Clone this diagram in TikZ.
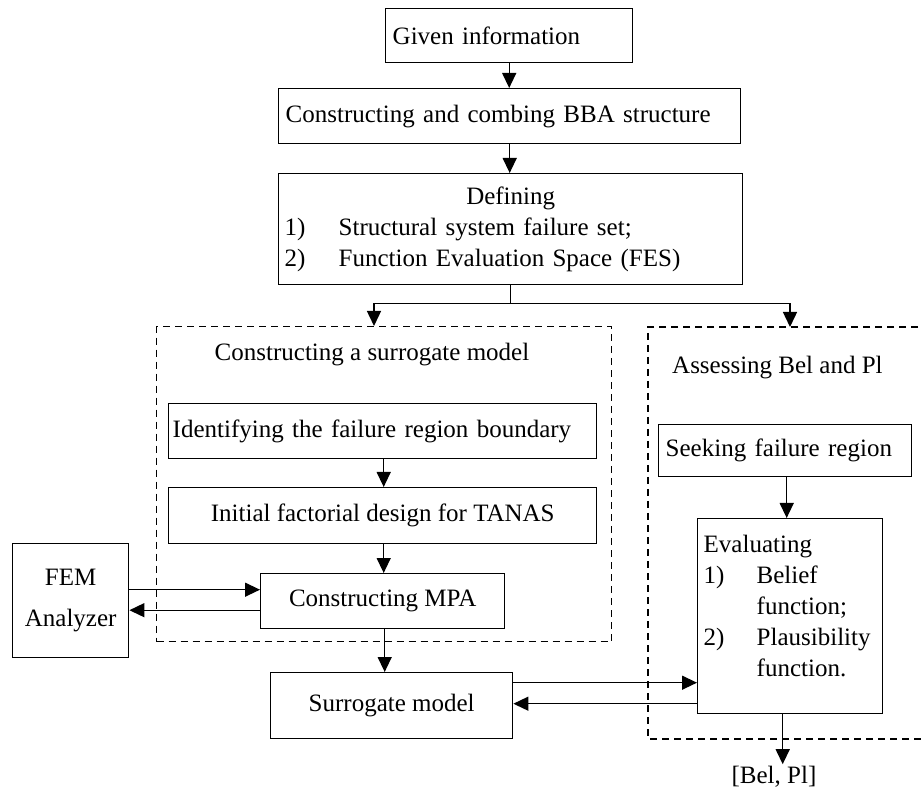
\documentclass[tikz,border=0pt]{standalone}
\usepackage{fontspec}
\setmainfont{Liberation Serif}
\usetikzlibrary{arrows.meta}
\begin{document}
\begin{tikzpicture}[x=1pt,y=-1pt,
  box/.style={draw, line width=1.4pt, inner sep=0pt, anchor=north west, font=\fontsize{25}{31}\selectfont},
  arr/.style={line width=1.4pt, -{Triangle[length=15pt,width=14pt]}},
  ln/.style={line width=1.4pt},
  dbox/.style={line width=1.4pt, dash pattern=on 7pt off 5pt},
  lbl/.style={font=\fontsize{25}{31}\selectfont, inner sep=0pt}]
\useasboundingbox (0,0) rectangle (922,794);

% main boxes
\node[box, minimum width=247, minimum height=54, text width=233, align=left] (given) at (385,8) {Given information};
\node[box, minimum width=462, minimum height=55, text width=448, align=left] (bba) at (278,88) {Constructing and combing BBA structure};
\node[box, minimum width=464, minimum height=111, text width=452, align=left] (def) at (278,173)
  {\makebox[452pt]{Defining}\\ \makebox[54pt][l]{1)}Structural system failure set;\\ \makebox[54pt][l]{2)}Function Evaluation Space (FES)};

% dashed groups
\node[dbox, draw, anchor=north west, minimum width=455, minimum height=315, inner sep=0pt] (left) at (156,326) {};
\draw[dbox] (930,327) -- (648,327) -- (648,739) -- (930,739);
\coordinate (ltop) at (374,326);
\coordinate (rtop) at (790,327);
\node[lbl] (t1) at (372,355) {Constructing a surrogate model};
\node[lbl, anchor=west] (t2) at (672,368) {Assessing Bel and Pl};

% left group
\node[box, minimum width=428, minimum height=55, text width=420, align=left] (ident) at (168,403) {Identifying the failure region boundary};
\node[box, minimum width=428, minimum height=56, align=center] (init) at (168,487) {Initial factorial design for TANAS};
\node[box, minimum width=244, minimum height=55, align=center] (mpa) at (260,573) {Constructing MPA};
\node[box, minimum width=116, minimum height=114, align=center] (fem) at (12,543) {FEM\\[10pt]Analyzer};
\node[box, minimum width=242, minimum height=66, align=center] (surr) at (270,672) {Surrogate model};

% right group
\node[box, minimum width=253, minimum height=52, text width=239, align=left] (seek) at (658,424) {Seeking failure region};
\node[box, minimum width=185, minimum height=195, text width=173, align=left] (eval) at (697,518)
  {Evaluating\\ \makebox[53pt][l]{1)}Belief\\ \hspace*{53pt}function;\\ \makebox[53pt][l]{2)}Plausibility\\ \hspace*{53pt}function.\\[-10pt]\mbox{}};
\node[lbl, inner sep=2pt] (belpl) at (774,777) {[Bel, Pl]};

% connectors
\draw[arr] (given.south) -- (given.south |- bba.north);
\draw[arr] (bba.south) -- (bba.south |- def.north);
\coordinate (jn) at ([yshift=-18pt]def.south);
\draw[ln] (def.south) -- (jn);
\draw[arr] (jn) -| (ltop);
\draw[arr] (jn) -| (rtop);
\draw[arr] ([xshift=1pt]ident.south) -- ([xshift=1pt]ident.south |- init.north);
\draw[arr] ([xshift=1pt]init.south) -- ([xshift=1pt]init.south |- mpa.north);
\draw[arr] ([xshift=2pt]mpa.south) -- ([xshift=2pt]mpa.south |- surr.north);
\draw[arr] ([yshift=11pt]fem.east) -- ([yshift=11pt]fem.east -| mpa.west);
\draw[arr] ([yshift=-9pt]mpa.west) -- ([yshift=-9pt]mpa.west -| fem.east);
\draw[arr] ([yshift=23pt]surr.east) -- ([yshift=23pt]surr.east -| eval.west);
\draw[arr] ([yshift=2pt]surr.east -| eval.west) -- ([yshift=2pt]surr.east);
\draw[arr] ([xshift=1.5pt]seek.south) -- ([xshift=1.5pt]seek.south |- eval.north);
\draw[arr] ([xshift=-7.5pt]eval.south) -- ([xshift=-7.5pt]eval.south |- belpl.north);
\end{tikzpicture}
\end{document}
